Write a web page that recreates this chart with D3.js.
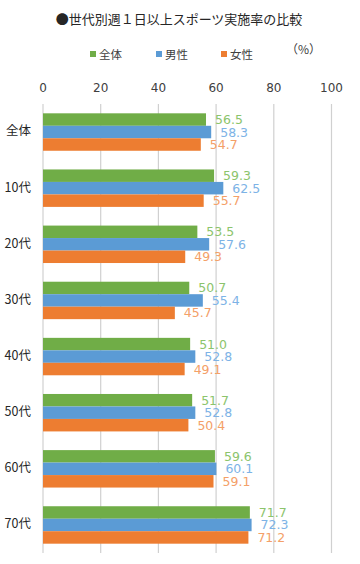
<!DOCTYPE html>
<html><head><meta charset="utf-8">
<script src="https://cdn.jsdelivr.net/npm/d3@7"></script>
<style>body{margin:0;background:#fff}svg{display:block}</style>
</head><body>
<svg id="c" width="360" height="564" style="font-family:'Noto Sans CJK JP','Noto Sans',sans-serif"></svg>
<script>
const categories = ["全体","10代","20代","30代","40代","50代","60代","70代"];
const seriesNames = ["全体","男性","女性"];
const total = [56.5,59.3,53.5,50.7,51.0,51.7,59.6,71.7];
const male = [58.3,62.5,57.6,55.4,52.8,52.8,60.1,72.3];
const female = [54.7,55.7,49.3,45.7,49.1,50.4,59.1,71.2];
const ticks = [0,20,40,60,80,100];
const title = "●世代別週１日以上スポーツ実施率の比較";
const unit = "（%）";

const barColors = ["#70AD47","#5B9BD5","#ED7D31"];
const labelColors = ["#8CC46C","#7DB3E6","#F4A068"];
const values = [total, male, female];
const numFont = "'DejaVu Sans',sans-serif";

const svg = d3.select("#c");
const x = d3.scaleLinear().domain([0,100]).range([43,331.5]);
const y = d3.scaleBand().domain(categories).range([104,553]).paddingInner(0.333).paddingOuter(0.166);
const ySub = d3.scaleBand().domain(seriesNames).range([0,y.bandwidth()]);

svg.append("text").attr("x",179).attr("y",24).attr("text-anchor","middle")
  .attr("font-size",13).attr("fill","#262626").text(title);

// legend
const legX = [90,156,221];
seriesNames.forEach((s,i)=>{
  svg.append("rect").attr("x",legX[i]).attr("y",51).attr("width",6).attr("height",6).attr("fill",barColors[i]);
  svg.append("text").attr("x",legX[i]+9).attr("y",58.5).attr("font-size",11.5).attr("fill","#404040").text(s);
});
svg.append("text").attr("x",286).attr("y",54).attr("font-size",12).attr("fill","#404040").text(unit);

// gridlines
svg.append("g").selectAll("line").data(ticks).join("line")
  .attr("x1",d=>x(d)).attr("x2",d=>x(d)).attr("y1",104).attr("y2",553)
  .attr("stroke","#D0D0D0").attr("stroke-width",1.2);

// top axis labels
svg.append("g").selectAll("text").data(ticks).join("text")
  .attr("x",d=>x(d)).attr("y",92).attr("text-anchor","middle")
  .attr("font-size",12).attr("fill","#404040").style("font-family",numFont).text(d=>d);

// bars
values.forEach((vals,si)=>{
  const g = svg.append("g");
  g.selectAll("rect").data(categories).join("rect")
    .attr("x",x(0)).attr("y",(c)=>y(c)+ySub(seriesNames[si]))
    .attr("width",(c,i)=>x(vals[i])-x(0)).attr("height",ySub.bandwidth())
    .attr("fill",barColors[si]);
  g.selectAll("text").data(categories).join("text")
    .attr("x",(c,i)=>x(vals[i])+9).attr("y",(c)=>y(c)+ySub(seriesNames[si])+ySub.bandwidth()/2+1)
    .attr("dominant-baseline","middle")
    .attr("font-size",12.5).attr("fill",labelColors[si]).style("font-family",numFont)
    .text((c,i)=>vals[i].toFixed(1));
});

// category labels
svg.append("g").selectAll("text").data(categories).join("text")
  .attr("x",31).attr("y",c=>y(c)+y.bandwidth()/2).attr("text-anchor","end")
  .attr("dominant-baseline","middle").attr("font-size",12.5).attr("fill","#262626").text(c=>c);
</script>
</body></html>
